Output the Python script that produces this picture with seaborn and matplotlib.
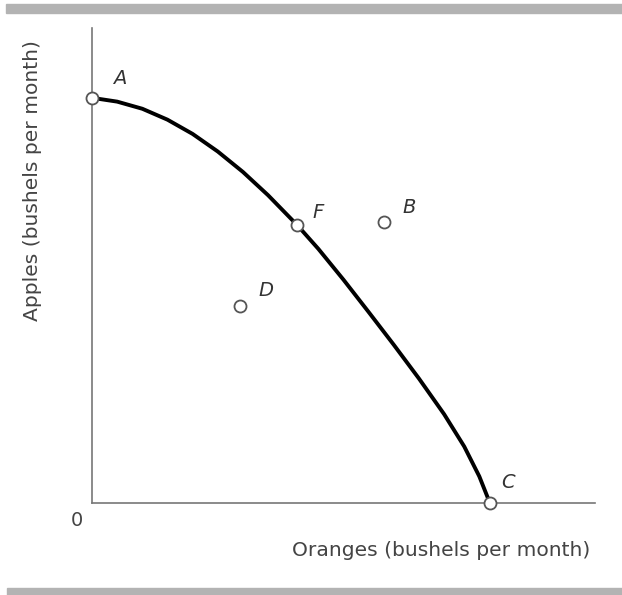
import matplotlib
matplotlib.use("Agg")
import matplotlib.pyplot as plt
import seaborn as sns
import pandas as pd
from matplotlib.patches import Rectangle

# --- Data (arbitrary units 0..10) ---
ppf_oranges = [0.0, 0.5, 1.0, 1.5, 2.0, 2.5, 3.0, 3.5, 4.08, 4.5, 5.0, 5.5, 6.0, 6.5, 7.0, 7.4, 7.7, 7.91]
ppf_apples = [8.53, 8.45, 8.30, 8.07, 7.77, 7.40, 6.97, 6.48, 5.85, 5.35, 4.70, 4.02, 3.33, 2.62, 1.87, 1.19, 0.56, 0.0]

point_names = ["A", "F", "B", "D", "C"]
point_oranges = [0.0, 4.08, 5.81, 2.94, 7.91]
point_apples = [8.53, 5.85, 5.92, 4.15, 0.0]

x_label = "Oranges (bushels per month)"
y_label = "Apples (bushels per month)"

# --- Style ---
sns.set_style("white")
plt.rcParams["font.family"] = ["DejaVu Sans"]

W, H = 622, 595
fig = plt.figure(figsize=(W / 100, H / 100), dpi=100)
ax = fig.add_axes([92 / W, (H - 503) / H, (595 - 92) / W, (503 - 28) / H])

curve = pd.DataFrame({"Oranges": ppf_oranges, "Apples": ppf_apples})
pts = pd.DataFrame({"name": point_names, "Oranges": point_oranges, "Apples": point_apples})

sns.lineplot(data=curve, x="Oranges", y="Apples", sort=False, estimator=None,
             color="black", linewidth=2.8, ax=ax, zorder=2)
sns.scatterplot(data=pts, x="Oranges", y="Apples", s=75, color="white",
                edgecolor="#555555", linewidth=1.3, ax=ax, zorder=3, clip_on=False)

# label offsets in pixels (dx, dy)
offsets = {"A": (28, 19), "F": (21, 13), "B": (25, 14), "D": (26, 15), "C": (18, 21)}
for _, r in pts.iterrows():
    dx, dy = offsets[r["name"]]
    ax.annotate(r["name"], (r["Oranges"], r["Apples"]), xytext=(dx, dy),
                textcoords="offset pixels", ha="center", va="center",
                fontsize=14, fontstyle="italic", color="#333333")

ax.set_xlim(0, 10)
ax.set_ylim(0, 10)
ax.set_xticks([])
ax.set_yticks([])
ax.set_xlabel("")
ax.set_ylabel("")
for side in ["top", "right"]:
    ax.spines[side].set_visible(False)
for side in ["left", "bottom"]:
    ax.spines[side].set_color("#777777")
    ax.spines[side].set_linewidth(1.2)

# axis texts placed in figure pixels
fig.text(441 / W, 1 - 551 / H, x_label, ha="center", va="center", fontsize=14.6, color="#444444")
fig.text(33 / W, 1 - 181 / H, y_label, ha="center", va="center", rotation=90,
         fontsize=14.6, color="#444444")
fig.text(77 / W, 1 - 520 / H, "0", ha="center", va="center", fontsize=14, color="#444444")

# grey rules top and bottom
fig.patches.append(Rectangle((6 / W, 1 - 13 / H), 1, 9 / H, transform=fig.transFigure,
                             color="#b3b3b3", zorder=0))
fig.patches.append(Rectangle((7 / W, 0), 1, 7 / H, transform=fig.transFigure,
                             color="#b3b3b3", zorder=0))

fig.savefig("out.png", dpi=100)
